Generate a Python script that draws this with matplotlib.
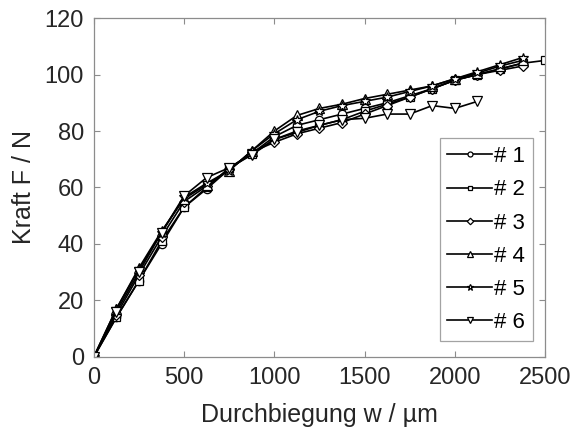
import matplotlib
matplotlib.use('Agg')
import numpy as np
import matplotlib.pyplot as plt

plt.rcParams['font.family'] = ['Liberation Sans', 'DejaVu Sans']

# deflection steps (um)
w = [0, 125, 250, 375, 500, 625, 750, 875, 1000, 1125, 1250, 1375,
     1500, 1625, 1750, 1875, 2000, 2125, 2250, 2375, 2500]

# force per specimen (N)
f1 = [0, 14, 27, 40, 53, 59.5, 66.5, 72, 78, 82, 84, 86, 88, 90, 92.5, 95, 98, 100, 102, 104]
f2 = [0, 14, 27, 41, 53, 60, 67, 72, 77, 80, 82, 84, 87, 89.5, 92, 95, 98, 100, 102, 104, 105]
f3 = [0, 15, 29, 42.5, 55, 60.5, 66.5, 72.5, 76, 79, 81, 83, 86, 89, 92, 95, 98, 100, 101.5, 103]
f4 = [0, 17, 31.5, 44.5, 56, 61, 66, 73, 80, 85.5, 88, 89.5, 91.5, 93, 94.5, 96, 98.5, 100.5, 103, 105]
f5 = [0, 17, 31, 44, 56.5, 61.5, 66, 73, 79, 84, 87, 89, 90.5, 92, 94, 96, 98.5, 101, 103.5, 106]
f6 = [0, 16, 30, 44, 57, 63.5, 67, 71.5, 77, 79.5, 82, 84, 84.5, 86, 86, 89, 88, 90.5]

series = [f1, f2, f3, f4, f5, f6]
labels = ['# 1', '# 2', '# 3', '# 4', '# 5', '# 6']
markers = ['o', 's', 'D', '^', '*', 'v']
msizes = [6, 6, 5.5, 6.5, 7.5, 6.5]

fig = plt.figure(figsize=(5.72, 4.30), dpi=100)
ax = fig.add_axes([0.164, 0.170, 0.789, 0.788])

for f, lab, m, ms in zip(series, labels, markers, msizes):
    ax.plot(w[:len(f)], f, color='black', lw=1.2, marker=m, ms=ms,
            mfc='white', mec='black', mew=0.9, label=lab)

ax.set_xlim(0, 2500)
ax.set_ylim(0, 120)
ax.set_xticks([0, 500, 1000, 1500, 2000, 2500])
ax.set_yticks([0, 20, 40, 60, 80, 100, 120])
ax.tick_params(direction='in', top=True, right=True, labelsize=17,
               color='#8c8c8c', length=4, labelcolor='#262626')
ax.tick_params(axis='y', pad=7)
ax.tick_params(axis='x', pad=7)
for s in ax.spines.values():
    s.set_color('#8c8c8c')
    s.set_linewidth(0.9)

ax.set_xlabel('Durchbiegung w / µm', fontsize=18, color='#262626', labelpad=10)
ax.set_ylabel('Kraft F / N', fontsize=18, color='#262626', labelpad=6)

leg = ax.legend(loc='lower right', bbox_to_anchor=(0.973, 0.047), borderaxespad=0,
                fontsize=16, frameon=True, fancybox=False, edgecolor='#8c8c8c',
                handlelength=2.0, handletextpad=0.1, labelspacing=0.55,
                borderpad=0.35, markerscale=0.6)
leg.get_frame().set_linewidth(0.9)

fig.savefig('out.png', dpi=100)
